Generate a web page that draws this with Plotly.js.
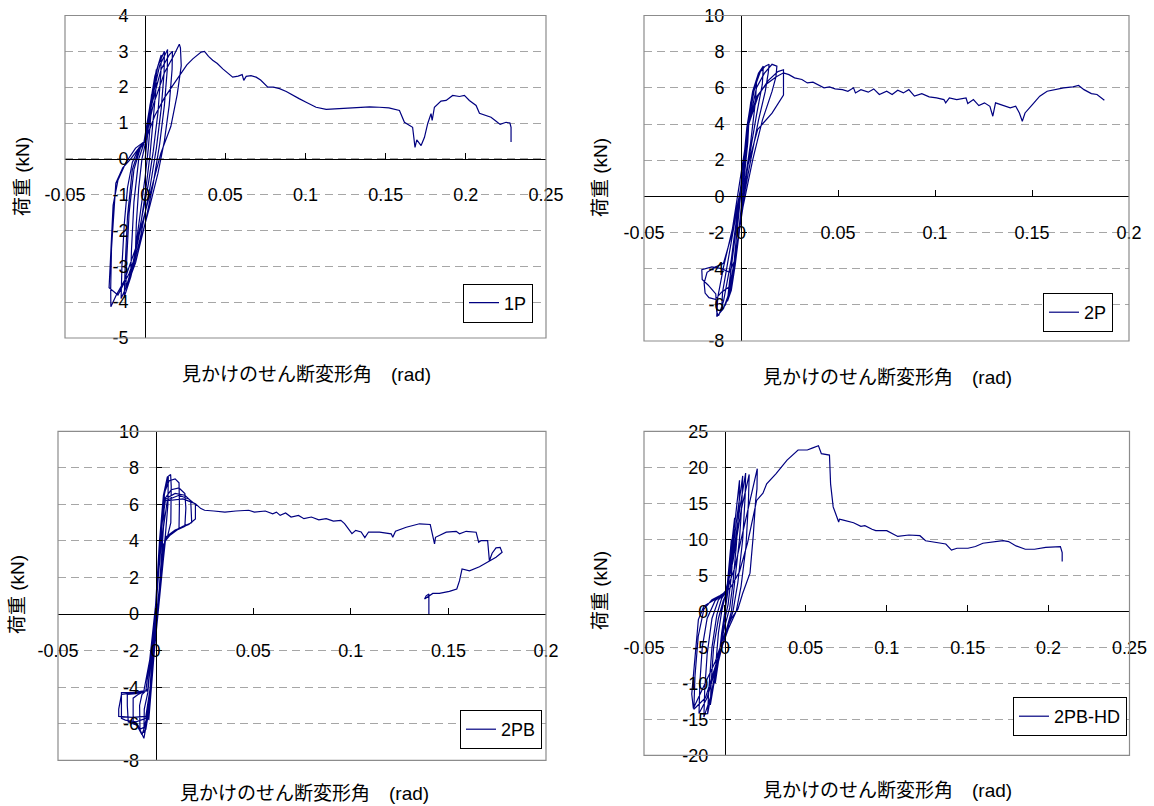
<!DOCTYPE html>
<html><head><meta charset="utf-8">
<script src="https://cdn.plot.ly/plotly-3.0.1.min.js"></script>
<style>html,body{margin:0;padding:0;background:#fff}</style>
</head><body><div id="chart" style="width:1154px;height:806px"></div>
<script>
// ---------------- data ----------------
const names = ['1P', '2P', '2PB', '2PB-HD'];

const loops1P = [
[0,0],[0.002,0.9],[0.004,1.8],[0.0035,1.2],[0.002,0.3],[0,-0.5],[-0.003,-1.5],[-0.006,-2.5],[-0.0055,-1.8],[-0.004,-0.8],[-0.002,0],[0,0.4],
[0.002,1.1],[0.005,2.0],[0.007,2.5],[0.0068,2.0],[0.005,1.0],[0.003,0.1],[0,-1],[-0.004,-2.2],[-0.009,-3.2],[-0.0085,-2.5],[-0.007,-1.2],[-0.004,0],[-0.001,0.4],
[0.002,1.2],[0.006,2.3],[0.010,2.9],[0.0098,2.4],[0.008,1.3],[0.005,0.2],[0.002,-0.7],[-0.003,-1.9],[-0.008,-3.0],[-0.012,-3.6],[-0.0115,-2.8],[-0.010,-1.5],[-0.007,-0.3],[-0.003,0.3],[0,0.5],
[0.003,1.5],[0.008,2.6],[0.012,3.0],[0.0118,2.4],[0.010,1.4],[0.007,0.3],[0.003,-0.8],[-0.003,-2.2],[-0.009,-3.3],[-0.013,-3.85],[-0.0125,-3.0],[-0.011,-1.6],[-0.008,-0.3],[-0.004,0.25],[0,0.5],
[0.004,1.6],[0.009,2.6],[0.014,3.05],[0.0138,2.5],[0.012,1.5],[0.009,0.4],[0.005,-0.7],[0,-1.8],[-0.006,-2.9],[-0.011,-3.5],[-0.015,-3.9],[-0.0145,-3.0],[-0.013,-1.8],[-0.011,-0.8],[-0.008,-0.1],[-0.004,0.3],[0,0.5],
[0.004,1.5],[0.010,2.5],[0.015,2.9],[0.017,3.0],[0.0168,2.5],[0.015,1.5],[0.012,0.5],[0.008,-0.4],[0.003,-1.3],[-0.003,-2.3],[-0.010,-3.2],[-0.017,-3.8],[-0.0225,-3.6],[-0.0215,-2.5],[-0.020,-1.3],[-0.017,-0.6],[-0.012,-0.1],[-0.006,0.3],[0,0.5],
[0.005,1.5],[0.012,2.4],[0.018,2.9],[0.0213,3.2],[0.022,3.1],[0.0225,2.6],[0.020,1.8],[0.016,0.9],[0.0098,0.16],[0.004,-0.8],[0,-1.5],[-0.006,-2.5],[-0.013,-3.4],[-0.018,-3.8],[-0.0214,-4.13],[-0.0215,-3.6],[-0.021,-2.5],[-0.0195,-1.3],[-0.0183,-0.68],[-0.014,-0.25],[-0.009,0],[-0.0048,0.25],[0,0.5],[0.006,1.2],[0.012,1.7],[0.018,2.1],[0.0224,2.37]
];
const tail1P = [
[0.026,2.62],[0.0297,2.79],[0.0349,2.98],[0.037,3.0],[0.0395,2.86],[0.0421,2.75],[0.045,2.66],[0.0484,2.51],[0.0515,2.40],[0.0546,2.28],[0.058,2.31],[0.0605,2.35],[0.0615,2.19],[0.063,2.30],[0.066,2.32],[0.0692,2.28],[0.072,2.20],[0.0765,2.0],[0.080,2.0],[0.0838,1.96],[0.088,1.88],[0.092,1.77],[0.096,1.68],[0.1004,1.58],[0.1066,1.44],[0.1129,1.38],[0.119,1.40],[0.1274,1.42],[0.1336,1.44],[0.140,1.45],[0.146,1.44],[0.152,1.42],[0.1586,1.35],[0.1617,1.02],[0.1668,0.88],[0.1683,0.32],[0.1694,0.53],[0.1721,0.37],[0.1742,0.60],[0.1762,0.98],[0.1783,1.26],[0.179,1.07],[0.1804,1.44],[0.1845,1.61],[0.1877,1.63],[0.1918,1.77],[0.196,1.74],[0.1991,1.77],[0.2022,1.63],[0.2064,1.49],[0.2085,1.27],[0.2126,1.21],[0.2157,1.16],[0.2189,1.05],[0.2214,0.96],[0.2251,1.02],[0.2275,1.0],[0.2282,0.88],[0.2282,0.47]
];

const loops2P = [
[0,0],[0.002,2.2],[0.004,4.0],[0.0035,3.0],[0.001,0.3],[-0.001,-1.8],[-0.003,-3.6],[-0.004,-4.3],[-0.0032,-3.2],[-0.001,-0.8],[0.001,1.2],
[0.003,3.5],[0.005,5.2],[0.007,6.0],[0.008,6.3],[0.0075,5.3],[0.005,3.0],[0.002,0.8],[0,-1.2],[-0.003,-3.8],[-0.005,-5.2],[-0.007,-5.8],[-0.006,-4.8],[-0.003,-2.2],[0,0.4],
[0.003,3.8],[0.006,5.8],[0.009,6.8],[0.0115,7.2],[0.011,6.2],[0.008,4.5],[0.004,2.0],[0.001,-0.2],[-0.002,-2.8],[-0.005,-5.0],[-0.008,-6.0],[-0.010,-6.3],[-0.0095,-5.3],[-0.006,-3.2],[-0.002,-0.6],[0.001,1.2],
[0.004,4.2],[0.007,6.0],[0.010,6.9],[0.0125,7.2],[0.0145,7.3],[0.014,6.8],[0.0125,5.8],[0.009,4.2],[0.005,2.0],[0.001,-0.3],[-0.003,-3.4],[-0.006,-5.3],[-0.009,-6.2],[-0.0125,-6.65],[-0.012,-5.6],[-0.009,-3.9],[-0.004,-1.6],[0,0.5],
[0.004,4.0],[0.008,6.0],[0.012,6.8],[0.016,7.3],[0.0185,7.2],[0.018,6.6],[0.016,5.8],[0.011,4.2],[0.006,2.0],[0.001,-0.6],[-0.003,-3.4],[-0.006,-5.0],[-0.010,-5.3],[-0.0133,-5.7],[-0.0165,-5.6],[-0.0185,-5.35],[-0.019,-4.8],[-0.0175,-4.2],[-0.013,-3.9],[-0.009,-3.7],[-0.005,-2.2],[-0.001,0.6],
[0.004,4.0],[0.009,5.6],[0.014,6.4],[0.019,6.9],[0.0219,7.0],[0.0219,6.2],[0.0219,5.6],[0.016,4.6],[0.0086,3.7],[0.003,1.5],[0,-1.0],[-0.003,-3.5],[-0.006,-4.2],[-0.010,-4.0],[-0.015,-3.9],[-0.0202,-4.06],[-0.020,-4.6],[-0.017,-4.9],[-0.013,-5.4],[-0.0125,-6.4],[-0.0115,-6.6],[-0.009,-5.8],[-0.005,-3.5],[-0.002,-1.0],[0.001,1.5],[0.004,4.0],[0.008,5.5],[0.013,6.2],[0.018,6.6],[0.0219,6.83]
];
const tail2P = [
[0.0247,6.73],[0.0276,6.55],[0.0314,6.46],[0.0342,6.27],[0.0371,6.31],[0.040,6.13],[0.0428,6.0],[0.0456,6.05],[0.0485,5.94],[0.0523,5.90],[0.0551,5.81],[0.058,6.0],[0.059,5.72],[0.0618,5.90],[0.0656,5.76],[0.0684,5.94],[0.0713,5.63],[0.0751,5.81],[0.0779,5.63],[0.0808,5.87],[0.0837,5.72],[0.0865,5.90],[0.0894,5.54],[0.0932,5.68],[0.097,5.50],[0.1008,5.44],[0.1046,5.35],[0.1055,5.17],[0.1074,5.44],[0.1112,5.35],[0.116,5.44],[0.1169,5.13],[0.1198,5.35],[0.1226,5.02],[0.1255,5.17],[0.1283,4.98],[0.1298,4.43],[0.1312,5.17],[0.135,5.02],[0.1388,4.89],[0.1416,4.98],[0.1435,4.61],[0.145,4.15],[0.1464,4.61],[0.1502,5.07],[0.154,5.54],[0.1578,5.81],[0.1626,5.94],[0.1663,6.0],[0.1711,6.05],[0.174,6.13],[0.1768,5.90],[0.1806,5.68],[0.1835,5.63],[0.1873,5.31]
];

const loops2PB = [
[0,0],[0.002,3],[0.004,6],[0.0045,6.6],[0.0042,5],[0.003,3],[0.001,0],[-0.001,-2.5],[-0.003,-5],[-0.0035,-5.8],[-0.003,-4.5],[-0.002,-2.5],[0,0],
[0.002,3.5],[0.004,6.3],[0.006,7.3],[0.0065,7.5],[0.0063,6.0],[0.005,4.3],[0.003,2.5],[0.001,0],[-0.001,-2.5],[-0.003,-5],[-0.005,-6.3],[-0.006,-6.5],[-0.0058,-5.2],[-0.004,-4.3],[-0.002,-2],[0,0.3],
[0.002,3.8],[0.004,6.5],[0.006,7.5],[0.0077,7.64],[0.008,7.0],[0.0078,5.0],[0.006,4.2],[0.004,3.8],[0.002,1.5],[0,-0.5],[-0.002,-3],[-0.004,-5.5],[-0.006,-6.2],[-0.008,-6.3],[-0.0082,-5.0],[-0.007,-4.4],[-0.004,-4.1],[-0.002,-2],[0,0.5],
[0.002,4],[0.004,6.5],[0.007,7.3],[0.010,7.4],[0.012,7.18],[0.0122,6.0],[0.012,4.7],[0.008,4.4],[0.005,4.0],[0.003,2],[0,-0.5],[-0.002,-3.2],[-0.004,-5.6],[-0.006,-6.8],[-0.009,-6.1],[-0.0115,-6.0],[-0.0115,-4.6],[-0.009,-4.4],[-0.005,-4.2],[-0.003,-2.5],[0,0.5],
[0.002,4],[0.004,6.2],[0.008,6.8],[0.012,6.9],[0.015,6.6],[0.0155,5.8],[0.015,4.8],[0.011,4.6],[0.006,4.2],[0.004,3.8],[0.002,1.5],[0,-1],[-0.002,-3.5],[-0.005,-6.0],[-0.007,-6.6],[-0.010,-6.0],[-0.014,-5.9],[-0.0145,-5.0],[-0.0145,-4.4],[-0.010,-4.35],[-0.005,-4.2],[-0.003,-2.5],[0,0.5],
[0.002,4],[0.005,6.3],[0.010,6.6],[0.015,6.5],[0.018,6.2],[0.0185,5.4],[0.0185,5.0],[0.014,4.8],[0.009,4.5],[0.005,4.1],[0.003,2],[0,-1],[-0.002,-3.5],[-0.005,-5.7],[-0.010,-5.9],[-0.0155,-5.8],[-0.0175,-5.7],[-0.0175,-4.3],[-0.012,-4.3],[-0.006,-4.2],[-0.003,-2.5],[0,0.5],
[0.002,4],[0.005,6.2],[0.012,6.5],[0.017,6.3],[0.0204,6.0],[0.0204,5.2],[0.017,4.9],[0.010,4.6],[0.005,4.2],[0.003,2],[0,-1],[-0.002,-3.5],[-0.005,-5.6],[-0.012,-5.65],[-0.0189,-5.6],[-0.0189,-5.2],[-0.0175,-4.4],[-0.01,-4.3],[-0.004,-4.2],[-0.002,-2],[0,0.3],[0.003,4],[0.006,6.2],[0.014,6.3],[0.019,6.1],[0.0204,6.04]
];
const tail2PB = [
[0.0232,5.77],[0.0251,5.68],[0.0298,5.64],[0.0355,5.58],[0.0411,5.64],[0.0477,5.68],[0.0506,5.58],[0.0562,5.64],[0.060,5.49],[0.0619,5.58],[0.0638,5.40],[0.0666,5.53],[0.0694,5.31],[0.0732,5.40],[0.076,5.22],[0.0798,5.31],[0.0836,5.16],[0.0874,5.22],[0.0911,5.09],[0.0949,5.13],[0.0968,4.95],[0.0987,4.67],[0.1006,4.40],[0.1025,4.58],[0.1053,4.49],[0.1072,4.18],[0.1091,4.49],[0.1147,4.48],[0.1207,4.39],[0.1215,4.20],[0.1229,4.53],[0.1284,4.75],[0.1352,4.94],[0.1407,4.90],[0.1429,3.84],[0.1434,4.20],[0.1489,4.48],[0.154,4.53],[0.1557,4.39],[0.1591,4.53],[0.1642,4.48],[0.1655,3.93],[0.1668,4.02],[0.1701,4.02],[0.171,2.92],[0.1724,3.33],[0.1744,3.62],[0.1765,3.65],[0.1775,3.38],[0.1744,3.11],[0.171,2.89],[0.1659,2.59],[0.1608,2.37],[0.157,2.47],[0.1557,1.83],[0.1543,1.37],[0.1505,1.24],[0.1454,1.13],[0.142,1.13],[0.1378,0.82],[0.1386,1.0],[0.14,1.1],[0.14,0.0]
];

const loops2PBHD = [
[0,0],[0.002,5],[0.004,10],[0.0035,7],[0.002,3],[0,0],[-0.002,-3],[-0.004,-7],[-0.006,-10],[-0.0055,-7],[-0.004,-3],[-0.002,0],[0,2],
[0.002,4],[0.004,9],[0.006,13],[0.0055,10],[0.004,5],[0.002,1],[0,-1],[-0.003,-5],[-0.006,-9],[-0.009,-13],[-0.0085,-10],[-0.007,-5],[-0.004,-1],[-0.001,1.5],[0.001,2.5],
[0.003,6],[0.006,12],[0.009,18.2],[0.0088,15],[0.007,9],[0.005,4],[0.003,0.5],[0,-2],[-0.004,-6],[-0.008,-11],[-0.0107,-14.3],[-0.010,-11],[-0.008,-5],[-0.005,-0.5],[-0.002,1.8],[0.001,2.8],
[0.004,7],[0.008,14],[0.011,18.8],[0.0105,15],[0.009,10],[0.006,4],[0.004,0],[0.001,-2.5],[-0.004,-7],[-0.009,-12],[-0.013,-14.7],[-0.0125,-11],[-0.011,-6],[-0.008,-1],[-0.004,1.6],[0,2.5],
[0.004,6],[0.009,14],[0.0128,19.2],[0.0125,16],[0.011,10],[0.008,4],[0.005,0],[0.001,-2.8],[-0.005,-7.5],[-0.011,-12],[-0.016,-14.2],[-0.0155,-10],[-0.014,-5],[-0.011,-1],[-0.006,1.5],[-0.002,2.2],[0.001,3],
[0.005,7],[0.010,14],[0.015,19],[0.0145,15],[0.013,9],[0.010,3.5],[0.007,0],[0.002,-2.5],[-0.005,-7],[-0.012,-12],[-0.0192,-13.6],[-0.0185,-9],[-0.0165,-3.5],[-0.013,0.3],[-0.008,1.6],[-0.003,2.2],[0.001,2.8],
[0.006,6],[0.012,12],[0.017,17],[0.020,19.8],[0.0198,17],[0.019,15.4],[0.0175,10.5],[0.0155,5.3],[0.011,2.5],[0.008,0.3],[0.004,-1],[0,-3],[-0.006,-7],[-0.013,-10.5],[-0.0195,-13.5],[-0.0205,-11.5],[-0.019,-7.5],[-0.017,-3],[-0.0164,-1.15],[-0.013,0.7],[-0.005,1.84],[0,2.5],[0.004,3.5],[0.009,5.5],[0.014,9.5],[0.018,13.5],[0.0196,15.4]
];
const tail2PBHD = [
[0.0235,16.4],[0.0258,17.7],[0.0315,19.1],[0.0384,21.0],[0.0452,22.4],[0.0509,22.4],[0.0543,22.7],[0.0578,23.0],[0.0596,21.9],[0.0646,21.7],[0.0653,17.7],[0.0669,14.5],[0.0703,12.4],[0.0708,12.8],[0.0726,12.7],[0.0795,12.3],[0.084,11.8],[0.0865,11.9],[0.0909,11.4],[0.0932,11.2],[0.1,11.2],[0.1046,10.6],[0.1068,10.4],[0.1137,10.6],[0.1205,10.5],[0.124,9.8],[0.132,9.5],[0.1365,9.35],[0.14,8.5],[0.1434,8.76],[0.1502,8.76],[0.1548,9.0],[0.1594,9.45],[0.1662,9.68],[0.1719,9.82],[0.1753,9.68],[0.1799,9.08],[0.1856,8.62],[0.1913,8.62],[0.1982,8.89],[0.2073,8.99],[0.2084,8.16],[0.2084,6.9]
];

// tick values
const xTicksA = [-0.05, 0, 0.05, 0.1, 0.15, 0.2, 0.25];
const xTicksB = [-0.05, 0, 0.05, 0.1, 0.15, 0.2];
const yTicks1P = [-5, -4, -3, -2, -1, 0, 1, 2, 3, 4];
const yTicks2P = [-8, -6, -4, -2, 0, 2, 4, 6, 8, 10];
const yTicks2PB = [-8, -6, -4, -2, 0, 2, 4, 6, 8, 10];
const yTicks2PBHD = [-20, -15, -10, -5, 0, 5, 10, 15, 20, 25];

const xTitle = '見かけのせん断変形角　(rad)';
const yTitle = '荷重 (kN)';

// ---------------- layout config (pixels) ----------------
const W = 1154, H = 806;
const panels = [
  {data:[loops1P, tail1P], xt:xTicksA, yt:yTicks1P, bx:[65,546], by:[15.5,338], leg:[533,303], yT:[22,177], xT:[306,374]},
  {data:[loops2P, tail2P], xt:xTicksB, yt:yTicks2P, bx:[644,1129], by:[15.5,341], leg:[1113,312.5], yT:[601,178], xT:[887,377]},
  {data:[loops2PB, tail2PB], xt:xTicksB, yt:yTicks2PB, bx:[58,546], by:[431.3,760.3], leg:[542,729.5], yT:[17,595], xT:[304,793]},
  {data:[loops2PBHD, tail2PBHD], xt:xTicksA, yt:yTicks2PBHD, bx:[644,1129.5], by:[431.3,755.3], leg:[1127,716.5], yT:[600,591], xT:[887,790]}
];

const FONT = 'Liberation Sans, Arial, Noto Sans CJK JP, sans-serif';
const traces = [];
const layout = {
  width: W, height: H, margin: {l:0, r:0, t:0, b:0},
  paper_bgcolor: '#fff', plot_bgcolor: '#fff', showlegend: true,
  shapes: [], annotations: []
};

panels.forEach((p, i) => {
  const n = i + 1;
  const sx = n === 1 ? '' : String(n);
  const xr = [p.xt[0], p.xt[p.xt.length - 1]];
  const yr = [p.yt[0], p.yt[p.yt.length - 1]];
  const xd = [p.bx[0] / W, p.bx[1] / W];
  const yd = [1 - p.by[1] / H, 1 - p.by[0] / H];
  const xPos = yd[0] + (0 - yr[0]) / (yr[1] - yr[0]) * (yd[1] - yd[0]);
  const yPos = xd[0] + (0 - xr[0]) / (xr[1] - xr[0]) * (xd[1] - xd[0]);
  const pts = [].concat(...p.data);
  traces.push({
    type: 'scatter', mode: 'lines', name: names[i],
    x: pts.map(q => q[0]), y: pts.map(q => q[1]),
    xaxis: 'x' + sx, yaxis: 'y' + sx, legend: 'legend' + sx,
    line: {color: '#000080', width: 1.2}, hoverinfo: 'skip'
  });
  layout['xaxis' + sx] = {
    domain: xd, range: xr, anchor: 'free', position: xPos,
    tickmode: 'array', tickvals: p.xt, ticktext: p.xt.map(String),
    showline: true, linecolor: '#000', linewidth: 1,
    ticks: 'inside', ticklen: 6, tickcolor: '#000', tickwidth: 1,
    showgrid: false, zeroline: false, ticklabelstandoff: 20,
    tickfont: {family: FONT, size: 18, color: '#000'}, fixedrange: true
  };
  layout['yaxis' + sx] = {
    domain: yd, range: yr, anchor: 'free', position: yPos,
    tickmode: 'array', tickvals: p.yt, ticktext: p.yt.map(String),
    showline: true, linecolor: '#000', linewidth: 1,
    ticks: 'inside', ticklen: 5, tickcolor: '#000', tickwidth: 1,
    showgrid: true, gridcolor: '#a6a6a6', gridwidth: 1, griddash: '8px,5px',
    zeroline: false, ticklabelstandoff: 13,
    tickfont: {family: FONT, size: 18, color: '#000'}, fixedrange: true
  };
  layout.shapes.push({
    type: 'rect', xref: 'x' + sx + ' domain', yref: 'y' + sx + ' domain',
    x0: 0, x1: 1, y0: 0, y1: 1, line: {color: '#8c8c8c', width: 1.2}, fillcolor: 'rgba(0,0,0,0)'
  });
  layout['legend' + sx] = {
    x: p.leg[0] / W, y: 1 - p.leg[1] / H, xanchor: 'right', yanchor: 'middle',
    bgcolor: '#fff', bordercolor: '#000', borderwidth: 1,
    font: {family: FONT, size: 18, color: '#000'}
  };
  layout.annotations.push({
    text: yTitle, xref: 'paper', yref: 'paper', x: p.yT[0] / W, y: 1 - p.yT[1] / H,
    textangle: -90, showarrow: false, xanchor: 'center', yanchor: 'middle',
    font: {family: FONT, size: 19, color: '#000'}
  });
  layout.annotations.push({
    text: xTitle, xref: 'paper', yref: 'paper', x: p.xT[0] / W, y: 1 - p.xT[1] / H,
    showarrow: false, xanchor: 'center', yanchor: 'middle',
    font: {family: FONT, size: 19, color: '#000'}
  });
});

Plotly.newPlot('chart', traces, layout, {displayModeBar: false, staticPlot: true});
</script>
</body></html>
